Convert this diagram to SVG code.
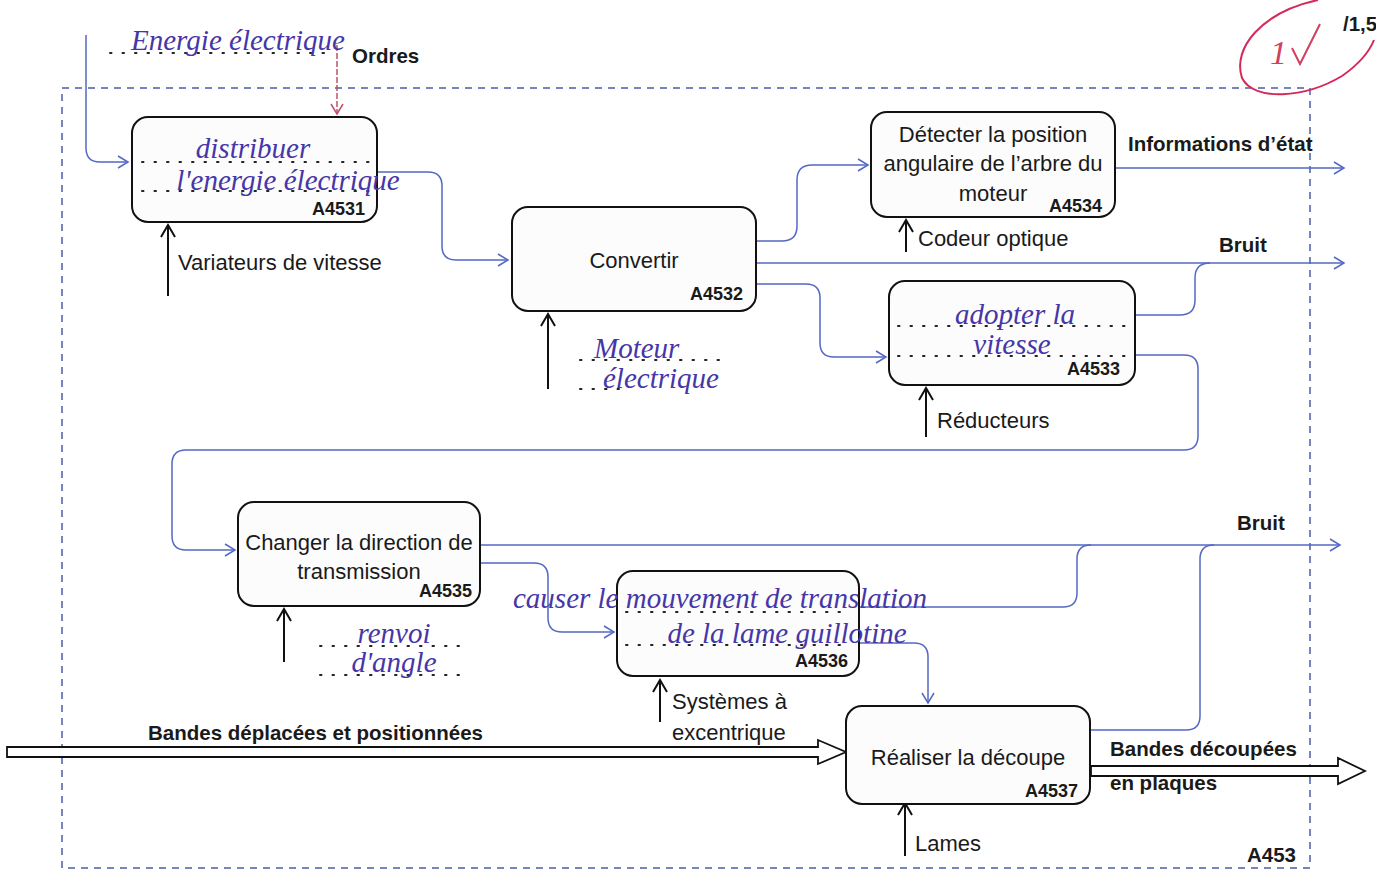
<svg xmlns="http://www.w3.org/2000/svg" width="1376" height="874" viewBox="0 0 1376 874">
<style>
.box{fill:#fcfcfc;stroke:#111;stroke-width:2}
.t{font-family:"Liberation Sans",Arial,sans-serif;font-size:22px;fill:#1a1a1a}
.b{font-family:"Liberation Sans",Arial,sans-serif;font-size:20.5px;font-weight:bold;fill:#1a1a1a}
.code{font-family:"Liberation Sans",Arial,sans-serif;font-size:18px;font-weight:bold;fill:#1a1a1a}
.h{font-family:"Liberation Serif","DejaVu Serif",serif;font-style:italic;font-size:29px;fill:#4636a8}
.dots{stroke:#222;stroke-width:2;stroke-dasharray:1.5 11;stroke-linecap:round;fill:none}
.flow{fill:none;stroke:#5468c4;stroke-width:1.5}
.mech{fill:none;stroke:#111;stroke-width:2}
.frame{fill:none;stroke:#4a5ea8;stroke-width:1.5;stroke-dasharray:7 6}
.hollow{fill:#fff;stroke:#111;stroke-width:1.8}
</style>
<defs>
<marker id="ab" markerWidth="14" markerHeight="14" refX="12" refY="7" orient="auto" markerUnits="userSpaceOnUse">
<path d="M2,1 L12,7 L2,13" fill="none" stroke="#5468c4" stroke-width="1.5"/>
</marker>
<marker id="ar" markerWidth="14" markerHeight="14" refX="12" refY="7" orient="auto" markerUnits="userSpaceOnUse">
<path d="M2,1 L12,7 L2,13" fill="none" stroke="#c0506a" stroke-width="1.5"/>
</marker>
<marker id="ak" markerWidth="16" markerHeight="16" refX="14" refY="8" orient="auto" markerUnits="userSpaceOnUse">
<path d="M2,1 L14,8 L2,15" fill="none" stroke="#111" stroke-width="2"/>
</marker>
</defs>
<rect width="1376" height="874" fill="#fff"/>

<rect class="frame" x="62" y="88" width="1248" height="780"/>

<g id="connectors">
<path class="flow" d="M86,35 V148 Q86,162 100,162 H128" marker-end="url(#ab)"/>
<path d="M337,45 V114" fill="none" stroke="#c0506a" stroke-width="1.5" stroke-dasharray="6 2" marker-end="url(#ar)"/>
<path class="flow" d="M378,172 H428 Q442,172 442,186 V246 Q442,260 456,260 H508" marker-end="url(#ab)"/>
<path class="flow" d="M757,241 H782 Q797,241 797,226 V180 Q797,165 812,165 H868" marker-end="url(#ab)"/>
<path class="flow" d="M757,263 H1344" marker-end="url(#ab)"/>
<path class="flow" d="M757,284 H806 Q820,284 820,298 V343 Q820,357 834,357 H886" marker-end="url(#ab)"/>
<path class="flow" d="M1116,168 H1344" marker-end="url(#ab)"/>
<path class="flow" d="M1136,315 H1180 Q1195,315 1195,300 V278 Q1195,263 1210,263"/>
<path class="flow" d="M1136,355 H1184 Q1198,355 1198,369 V436 Q1198,450 1184,450 H186 Q172,450 172,464 V536 Q172,550 186,550 H235" marker-end="url(#ab)"/>
<path class="flow" d="M481,545 H1340" marker-end="url(#ab)"/>
<path class="flow" d="M481,563 H534 Q548,563 548,577 V618 Q548,632 562,632 H614" marker-end="url(#ab)"/>
<path class="flow" d="M860,607 H1063 Q1077,607 1077,593 V559 Q1077,545 1091,545"/>
<path class="flow" d="M860,643 H914 Q928,643 928,657 V703" marker-end="url(#ab)"/>
<path class="flow" d="M1091,730 H1186 Q1200,730 1200,716 V559 Q1200,545 1214,545"/>
<path class="mech" d="M168,296 V225" marker-end="url(#ak)"/>
<path class="mech" d="M548,389 V314" marker-end="url(#ak)"/>
<path class="mech" d="M906,252 V220" marker-end="url(#ak)"/>
<path class="mech" d="M926,437 V388" marker-end="url(#ak)"/>
<path class="mech" d="M284,662 V609" marker-end="url(#ak)"/>
<path class="mech" d="M660,722 V680" marker-end="url(#ak)"/>
<path class="mech" d="M905,856 V803" marker-end="url(#ak)"/>
<path class="hollow" d="M7,747 H818 V740 L846,752 L818,764 V757 H7 Z"/>
<path class="hollow" d="M1091,766 H1338 V758 L1365,771 L1338,784 V776 H1091 Z"/>
</g>

<g id="A4531">
<rect class="box" x="132" y="117" width="245" height="105" rx="16"/>
<line class="dots" x1="142" y1="162" x2="370" y2="162"/>
<line class="dots" x1="142" y1="191" x2="370" y2="191"/>
<text class="h" x="253" y="158" text-anchor="middle">distribuer</text>
<text class="h" x="288" y="190" text-anchor="middle">l'energie électrique</text>
<text class="code" x="365" y="215" text-anchor="end">A4531</text>
</g>

<g id="A4532">
<rect class="box" x="512" y="207" width="244" height="104" rx="16"/>
<text class="t" x="634" y="268" text-anchor="middle">Convertir</text>
<text class="code" x="743" y="300" text-anchor="end">A4532</text>
</g>

<g id="A4534">
<rect class="box" x="871" y="112" width="244" height="105" rx="16"/>
<text class="t" x="993" y="142" text-anchor="middle">Détecter la position</text>
<text class="t" x="993" y="171" text-anchor="middle">angulaire de l’arbre du</text>
<text class="t" x="993" y="201" text-anchor="middle">moteur</text>
<text class="code" x="1102" y="212" text-anchor="end">A4534</text>
</g>

<g id="A4533">
<rect class="box" x="889" y="281" width="246" height="104" rx="16"/>
<line class="dots" x1="898" y1="326" x2="1130" y2="326"/>
<line class="dots" x1="898" y1="356" x2="1130" y2="356"/>
<text class="h" x="1015" y="324" text-anchor="middle">adopter la</text>
<text class="h" x="1012" y="354" text-anchor="middle">vitesse</text>
<text class="code" x="1120" y="375" text-anchor="end">A4533</text>
</g>

<g id="A4535">
<rect class="box" x="238" y="502" width="242" height="104" rx="16"/>
<text class="t" x="359" y="550" text-anchor="middle">Changer la direction de</text>
<text class="t" x="359" y="579" text-anchor="middle">transmission</text>
<text class="code" x="472" y="597" text-anchor="end">A4535</text>
</g>

<g id="A4536">
<rect class="box" x="617" y="571" width="242" height="105" rx="16"/>
<line class="dots" x1="626" y1="612" x2="850" y2="612"/>
<line class="dots" x1="626" y1="645" x2="850" y2="645"/>
<text class="h" x="720" y="608" text-anchor="middle">causer le mouvement de translation</text>
<text class="h" x="787" y="643" text-anchor="middle">de la lame guillotine</text>
<text class="code" x="848" y="667" text-anchor="end">A4536</text>
</g>

<g id="A4537">
<rect class="box" x="846" y="706" width="244" height="98" rx="16"/>
<text class="t" x="968" y="765" text-anchor="middle">Réaliser la découpe</text>
<text class="code" x="1078" y="797" text-anchor="end">A4537</text>
</g>

<g id="labels">
<line class="dots" x1="110" y1="53" x2="330" y2="53"/>
<text class="h" x="238" y="50" text-anchor="middle" font-size="31">Energie électrique</text>
<text class="b" x="352" y="63">Ordres</text>
<text class="t" x="178" y="270">Variateurs de vitesse</text>
<line class="dots" x1="580" y1="360" x2="720" y2="360"/>
<line class="dots" x1="580" y1="389" x2="620" y2="389"/>
<text class="h" x="594" y="358">Moteur</text>
<text class="h" x="603" y="388">électrique</text>
<text class="t" x="918" y="246">Codeur optique</text>
<text class="b" x="1128" y="151">Informations d’état</text>
<text class="b" x="1219" y="252">Bruit</text>
<text class="t" x="937" y="428">Réducteurs</text>
<text class="b" x="1237" y="530">Bruit</text>
<line class="dots" x1="320" y1="646" x2="466" y2="646"/>
<line class="dots" x1="320" y1="675" x2="466" y2="675"/>
<text class="h" x="394" y="643" text-anchor="middle">renvoi</text>
<text class="h" x="394" y="672" text-anchor="middle">d'angle</text>
<text class="t" x="672" y="709">Systèmes à</text>
<text class="t" x="672" y="740">excentrique</text>
<text class="b" x="148" y="740">Bandes déplacées et positionnées</text>
<text class="b" x="1110" y="756">Bandes découpées</text>
<text class="b" x="1110" y="790">en plaques</text>
<text class="t" x="915" y="851">Lames</text>
<text class="b" x="1247" y="862">A453</text>
</g>

<g id="grade">
<path d="M1318,0 C1262,12 1232,48 1242,78 C1254,102 1305,98 1342,76 C1362,62 1370,50 1374,40" fill="none" stroke="#d42a5a" stroke-width="2"/>
<text x="1270" y="64" font-family="Liberation Serif,serif" font-style="italic" font-size="34" fill="#d04060">1</text>
<path d="M1292,48 L1300,64 L1320,24" fill="none" stroke="#d04060" stroke-width="2"/>
<text class="b" x="1343" y="31" font-size="16">/1,5</text>
</g>
</svg>
